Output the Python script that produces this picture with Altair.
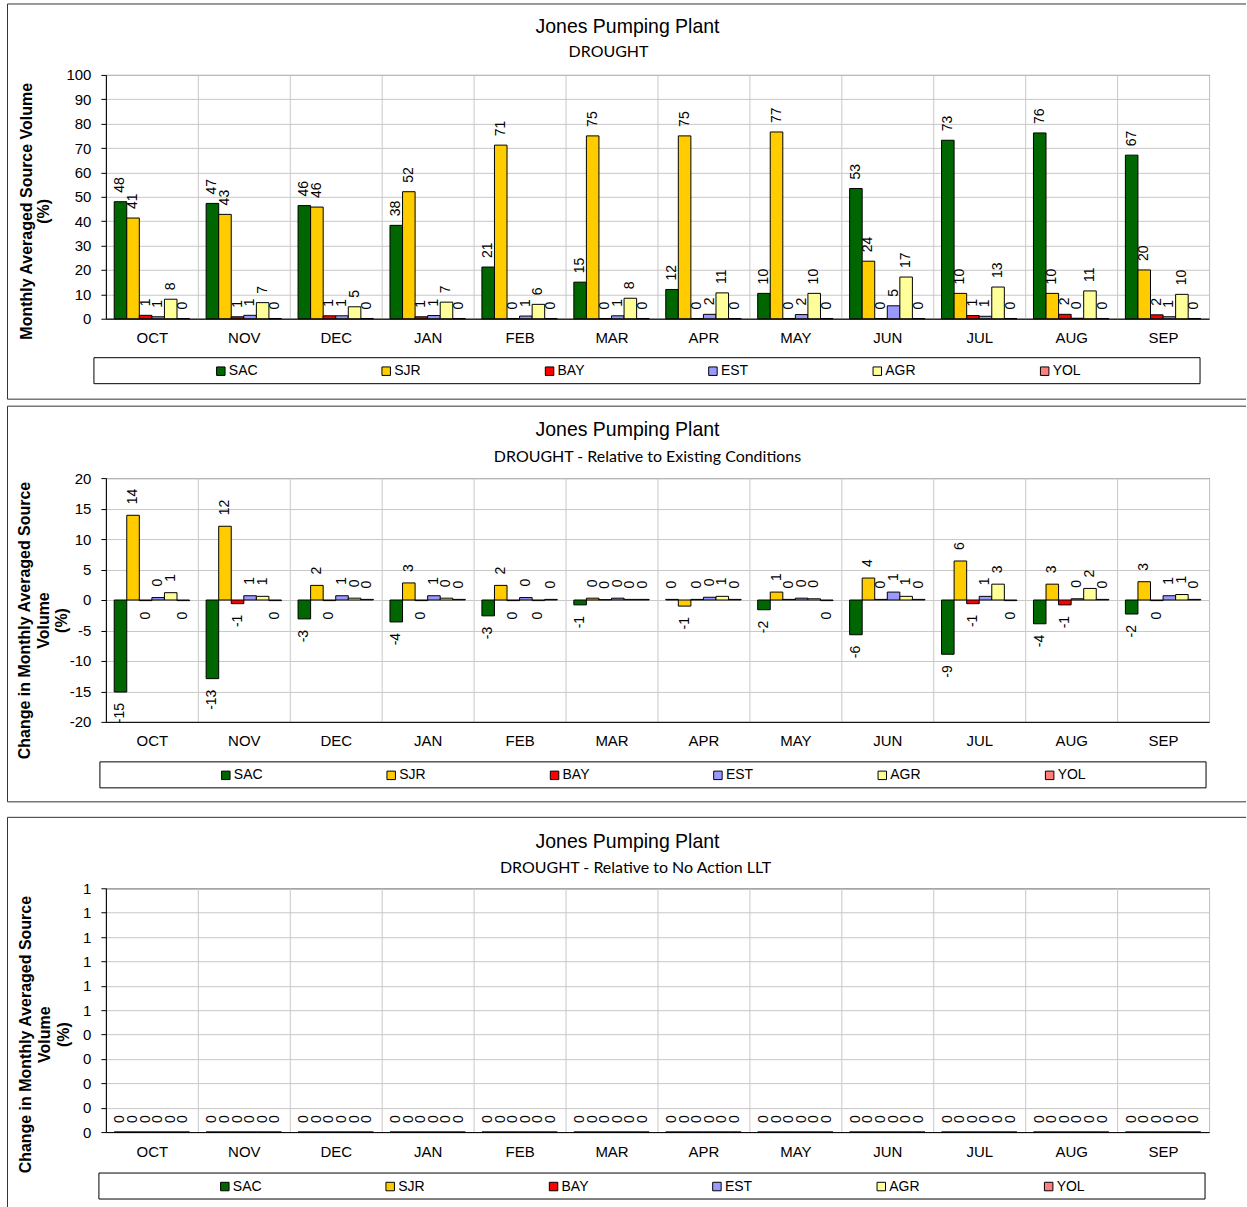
import altair as alt
import pandas as pd

months = ["OCT", "NOV", "DEC", "JAN", "FEB", "MAR", "APR", "MAY", "JUN", "JUL", "AUG", "SEP"]
series = ["SAC", "SJR", "BAY", "EST", "AGR", "YOL"]
colors = ["#006600", "#FFCC00", "#FF0000", "#9999FF", "#FFFF99", "#FF7F7F"]

# Panel 1: DROUGHT (%)
p1_sac = [48.0, 47.3, 46.4, 38.3, 21.2, 15.0, 12.0, 10.4, 53.4, 73.2, 76.2, 67.1]
p1_sjr = [41.3, 42.8, 45.8, 52.1, 71.2, 75.0, 75.0, 76.6, 23.6, 10.4, 10.4, 20.0]
p1_bay = [1.4, 0.8, 1.2, 0.8, 0.1, 0.1, 0.1, 0.1, 0.1, 1.3, 1.8, 1.6]
p1_est = [0.8, 1.4, 1.2, 1.3, 1.1, 1.2, 1.8, 1.7, 5.3, 1.0, 0.2, 0.8]
p1_agr = [8.0, 6.6, 4.9, 6.8, 5.9, 8.4, 10.6, 10.4, 17.1, 13.0, 11.4, 10.0]
p1_yol = [0.1, 0.1, 0.1, 0.1, 0.1, 0.1, 0.1, 0.1, 0.1, 0.1, 0.1, 0.1]

# Panel 2: relative to Existing Conditions
p2_sac = [-15.1, -12.9, -3.1, -3.6, -2.6, -0.8, 0.1, -1.6, -5.7, -8.9, -3.9, -2.3]
p2_sjr = [13.9, 12.1, 2.4, 2.8, 2.4, 0.3, -1.0, 1.3, 3.6, 6.4, 2.6, 3.0]
p2_bay = [-0.1, -0.6, -0.1, -0.1, -0.1, 0.05, 0.1, 0.1, 0.1, -0.6, -0.8, -0.1]
p2_est = [0.4, 0.7, 0.7, 0.7, 0.4, 0.3, 0.45, 0.3, 1.3, 0.6, 0.2, 0.7]
p2_agr = [1.2, 0.6, 0.3, 0.3, -0.1, 0.1, 0.6, 0.2, 0.6, 2.6, 1.9, 0.9]
p2_yol = [-0.1, -0.1, 0.1, 0.1, 0.1, 0.1, 0.1, -0.1, 0.1, -0.1, 0.1, 0.1]

# Panel 3: relative to No Action LLT
p3_sac = [0, 0, 0, 0, 0, 0, 0, 0, 0, 0, 0, 0]
p3_sjr = [0, 0, 0, 0, 0, 0, 0, 0, 0, 0, 0, 0]
p3_bay = [0, 0, 0, 0, 0, 0, 0, 0, 0, 0, 0, 0]
p3_est = [0, 0, 0, 0, 0, 0, 0, 0, 0, 0, 0, 0]
p3_agr = [0, 0, 0, 0, 0, 0, 0, 0, 0, 0, 0, 0]
p3_yol = [0, 0, 0, 0, 0, 0, 0, 0, 0, 0, 0, 0]

p1_ticks = [0, 10, 20, 30, 40, 50, 60, 70, 80, 90, 100]
p2_ticks = [-20, -15, -10, -5, 0, 5, 10, 15, 20]
p3_ticks = [0, 0.1, 0.2, 0.3, 0.4, 0.5, 0.6, 0.7, 0.8, 0.9, 1.0]

main_title = "Jones Pumping Plant"
sub1 = "DROUGHT"
sub2 = "DROUGHT - Relative to Existing Conditions"
sub3 = "DROUGHT - Relative to No Action LLT"
ytitle1 = ["Monthly Averaged Source Volume", "(%)"]
ytitle23 = ["Change in Monthly Averaged Source", "Volume", "(%)"]

FONT = "Liberation Sans"
W, H = 1104, 244
one = pd.DataFrame({"k": [0]})


def long_df(cols):
    rows = []
    for s, vals in zip(series, cols):
        for m, v in zip(months, vals):
            rows.append({"month": m, "series": s, "value": v})
    return pd.DataFrame(rows)


def panel(df, domain, ticks, label_expr, ytitle, ytx, yty, ylh, tpos, subtitle, spos,
          dx, box_top, box_bottom, leg_box, leg_xy, extra_bottom=None, bottom_line=True):
    x = alt.X("month:N", sort=months,
              scale=alt.Scale(domain=months, paddingInner=0, paddingOuter=0),
              axis=alt.Axis(title=None, ticks=False, tickSize=0, labelPadding=12, labelAngle=0,
                            grid=True, tickBand="extent", labelFontSize=15))
    y = alt.Y("value:Q", scale=alt.Scale(domain=domain, nice=False, zero=False),
              axis=alt.Axis(values=ticks, tickSize=5, labelPadding=10, labelExpr=label_expr,
                            title=ytitle, titleAngle=270, titleAlign="center",
                            titleBaseline="alphabetic", titleX=ytx, titleY=yty,
                            titleLineHeight=ylh, grid=True))
    xo = alt.XOffset("series:N", sort=series,
                     scale=alt.Scale(domain=series, paddingInner=0, paddingOuter=0.66))
    base = alt.Chart(df).encode(x=x, y=y, xOffset=xo)
    bars = base.mark_bar(stroke="black", strokeWidth=1).encode(
        color=alt.Color("series:N", sort=series,
                        scale=alt.Scale(domain=series, range=colors),
                        legend=alt.Legend(orient="none", legendX=leg_xy[0], legendY=leg_xy[1],
                                          direction="horizontal", title=None, columnPadding=121.5,
                                          symbolType="square", symbolSize=72,
                                          symbolStrokeColor="black", symbolStrokeWidth=1,
                                          labelFont=FONT, labelFontSize=14, labelOffset=1,
                                          labelColor="black", padding=0))
    )
    lab = base.transform_calculate(label="toString(round(datum.value))")
    pos = lab.transform_filter("datum.value >= 0").mark_text(
        angle=270, align="left", baseline="middle", dx=dx, font=FONT, fontSize=14, color="black"
    ).encode(text="label:N")
    neg = lab.transform_filter("datum.value < 0").mark_text(
        angle=270, align="right", baseline="middle", dx=-dx, font=FONT, fontSize=14, color="black"
    ).encode(text="label:N")

    t1 = alt.Chart(one).transform_calculate(t=f"'{main_title}'").mark_text(
        font=FONT, fontSize=19.5, align="center", baseline="middle", color="black"
    ).encode(x=alt.value(tpos[0]), y=alt.value(tpos[1]), text="t:N")
    t2 = alt.Chart(one).transform_calculate(t=f"'{subtitle}'").mark_text(
        font="Lato", fontSize=16, align="center", baseline="middle", color="black"
    ).encode(x=alt.value(spos[0]), y=alt.value(spos[1]), text="t:N")

    left_x, right_x = -98.5, 1141
    rules = [
        alt.Chart(one).mark_rule(color="#333333", strokeWidth=1).encode(
            x=alt.value(left_x), x2=alt.value(right_x), y=alt.value(box_top)),
        alt.Chart(one).mark_rule(color="#333333", strokeWidth=1).encode(
            x=alt.value(left_x), y=alt.value(box_top), y2=alt.value(box_bottom)),
    ]
    if bottom_line:
        rules.append(alt.Chart(one).mark_rule(color="#333333", strokeWidth=1).encode(
            x=alt.value(left_x), x2=alt.value(right_x), y=alt.value(box_bottom)))
    if extra_bottom is not None:
        rules.append(alt.Chart(one).mark_rule(strokeOpacity=0, strokeWidth=1).encode(
            x=alt.value(left_x), x2=alt.value(0), y=alt.value(extra_bottom)))
    legbox = alt.Chart(one).mark_rect(fillOpacity=0, stroke="black", strokeWidth=1).encode(
        x=alt.value(leg_box[0]), x2=alt.value(leg_box[1]),
        y=alt.value(leg_box[2]), y2=alt.value(leg_box[3]))

    return alt.layer(bars, pos, neg, t1, t2, legbox, *rules).properties(width=W, height=H)


df1 = long_df([p1_sac, p1_sjr, p1_bay, p1_est, p1_agr, p1_yol])
df2 = long_df([p2_sac, p2_sjr, p2_bay, p2_est, p2_agr, p2_yol])
df3 = long_df([p3_sac, p3_sjr, p3_bay, p3_est, p3_agr, p3_yol])

c1 = panel(df1, [0, 100], p1_ticks, "toString(datum.value)", ytitle1, -74, 136, 17,
           (522, -48), sub1, (503, -23), 9, -71, 324.5, (-12, 1095, 283, 309), (108, 289.5))
c2 = panel(df2, [-20, 20], p2_ticks, "toString(datum.value)", ytitle23, -76, 142, 18.5,
           (522, -48), sub2, (542, -21), 11, -72, 324, (-6, 1101, 284, 310), (113, 290.5),
           extra_bottom=333.5)
c3 = panel(df3, [0, 1], p3_ticks, "toString(round(datum.value))", ytitle23, -75, 146, 19,
           (522, -46), sub3, (530, -20), 9, -71, 320, (-7, 1100, 285, 311), (112, 291.5),
           bottom_line=False)

chart = alt.vconcat(c1, c2, c3, spacing=4.5).resolve_scale(
    x="independent", y="independent", color="independent"
).properties(
    padding={"top": 2.5, "left": 6, "right": 0, "bottom": 0},
    background="white",
).configure_view(
    stroke="black", strokeWidth=1
).configure_axis(
    labelFont=FONT, labelFontSize=15, labelColor="black",
    gridColor="#C8C8C8", gridWidth=1, domainColor="black", tickColor="black",
    titleFont=FONT, titleFontSize=16, titleFontWeight="bold", titleColor="black",
)

chart.save("out.html", embed_options={"renderer": "svg", "actions": False})
